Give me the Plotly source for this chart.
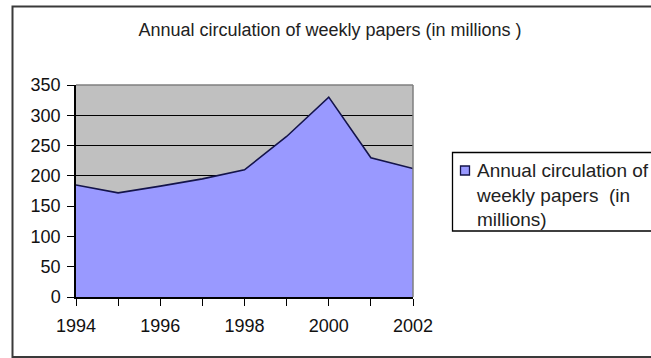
import plotly.graph_objects as go

# Annual circulation of weekly papers, in millions
years = [1994, 1995, 1996, 1997, 1998, 1999, 2000, 2001, 2002]
circulation = [185, 172, 183, 195, 210, 265, 330, 230, 212]
series_name = "Annual circulation of weekly papers (in millions)"
legend_lines = ["Annual circulation of", "weekly papers  (in", "millions)"]
title_text = "Annual circulation of weekly papers (in millions )"
y_ticks = [0, 50, 100, 150, 200, 250, 300, 350]
x_label_years = [1994, 1996, 1998, 2000, 2002]

W, H = 651, 358
# plot area in pixels
L, R, T, B = 76, 413, 85, 297
FONT = "Liberation Sans, Arial, sans-serif"


def px_x(x):
    return (x - L) / (R - L)


def px_y(y):
    return (B - y) / (B - T)


fig = go.Figure()
fig.add_trace(go.Scatter(
    x=years, y=circulation, name=series_name, mode="lines",
    fill="tozeroy", fillcolor="#9999ff",
    line=dict(color="#14144a", width=1.6),
    showlegend=False, hoverinfo="x+y",
))

axis_font = dict(family=FONT, size=18, color="#111111")

fig.update_xaxes(
    range=[years[0], years[-1]],
    tickvals=years,
    ticktext=[str(y) if y in x_label_years else "" for y in years],
    ticks="outside", ticklen=7, tickwidth=1.3, tickcolor="#000000",
    ticklabelstandoff=5,
    showline=True, linecolor="#000000", linewidth=1.5,
    showgrid=False, zeroline=False, tickfont=axis_font,
)
fig.update_yaxes(
    range=[0, 350], tickvals=y_ticks,
    ticks="outside", ticklen=7, tickwidth=1.3, tickcolor="#000000",
    ticklabelstandoff=3,
    showline=True, linecolor="#000000", linewidth=1.5,
    showgrid=True, gridcolor="#000000", gridwidth=1.3,
    zeroline=False, tickfont=axis_font,
)

shapes = [
    # plot area border (top and right edges)
    dict(type="line", xref="paper", yref="paper",
         x0=0, x1=1, y0=1, y1=1, line=dict(color="#7f7f7f", width=1.5), layer="above"),
    dict(type="line", xref="paper", yref="paper",
         x0=1, x1=1, y0=0, y1=1, line=dict(color="#7f7f7f", width=1.5), layer="above"),
    # chart frame
    dict(type="rect", xref="paper", yref="paper",
         x0=px_x(12.5), x1=px_x(700), y0=px_y(6.5), y1=px_y(357),
         line=dict(color="#3a3a3a", width=2), layer="below"),
    # legend box
    dict(type="rect", xref="paper", yref="paper",
         x0=px_x(452.5), x1=px_x(700), y0=px_y(152.5), y1=px_y(231),
         line=dict(color="#000000", width=1.3), layer="above"),
    # legend key
    dict(type="rect", xref="paper", yref="paper",
         x0=px_x(460.5), x1=px_x(469.5), y0=px_y(166), y1=px_y(175),
         fillcolor="#9999ff", line=dict(color="#14144a", width=1.3), layer="above"),
]

annotations = [
    dict(text="<br>".join(legend_lines), xref="paper", yref="paper",
         x=px_x(474), y=px_y(158), xanchor="left", yanchor="top", align="left",
         showarrow=False, font=dict(family=FONT, size=19, color="#222222")),
]

fig.update_layout(
    width=W, height=H,
    margin=dict(l=L, r=W - R, t=T, b=H - B, pad=0),
    paper_bgcolor="#ffffff", plot_bgcolor="#c0c0c0",
    title=dict(text=title_text, x=330 / W, xanchor="center",
               y=1 - 30 / H, yanchor="middle",
               font=dict(family=FONT, size=18, color="#222222")),
    shapes=shapes, annotations=annotations,
)

fig.write_html("out.html")
